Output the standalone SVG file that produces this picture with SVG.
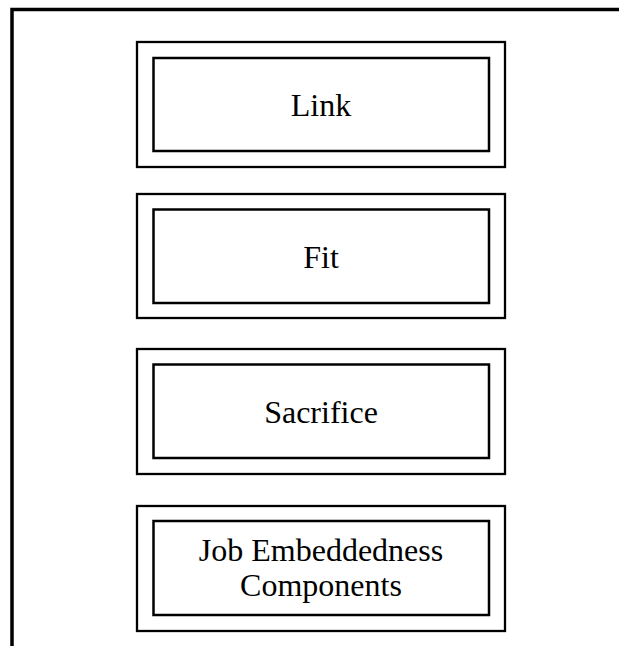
<svg xmlns="http://www.w3.org/2000/svg" width="619" height="646" viewBox="0 0 619 646">
<style>
.frame{fill:none;stroke:#000;stroke-width:3.5}
.outer{fill:none;stroke:#000;stroke-width:2.3}
.inner{fill:none;stroke:#000;stroke-width:2.5}
.lbl{font-family:"Liberation Serif","Times New Roman",serif;font-size:32px;fill:#000;text-anchor:middle}
</style>
<rect width="619" height="646" fill="#fff"/>
<rect class="frame" x="12" y="9.5" width="700" height="700"/>
<g id="link">
<rect class="outer" x="137" y="42" width="368" height="125"/>
<rect class="inner" x="153.5" y="58" width="335.5" height="93"/>
<text class="lbl" x="321" y="116">Link</text>
</g>
<g id="fit">
<rect class="outer" x="137" y="194" width="368" height="124"/>
<rect class="inner" x="153.5" y="209.5" width="335.5" height="93.5"/>
<text class="lbl" x="321" y="267.5">Fit</text>
</g>
<g id="sacrifice">
<rect class="outer" x="137" y="349" width="368" height="125"/>
<rect class="inner" x="153.5" y="364.5" width="335.5" height="93.5"/>
<text class="lbl" x="321" y="423">Sacrifice</text>
</g>
<g id="job">
<rect class="outer" x="137" y="506" width="368" height="125"/>
<rect class="inner" x="153.5" y="521" width="335.5" height="94"/>
<text class="lbl" x="321" y="560.5">Job Embeddedness</text>
<text class="lbl" x="321" y="595.5">Components</text>
</g>
<g id="connectors"></g>
</svg>
